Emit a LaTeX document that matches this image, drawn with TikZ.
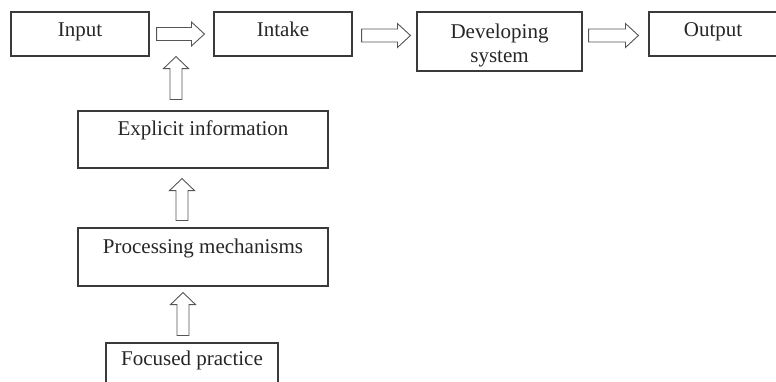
\documentclass[tikz,border=0pt]{standalone}
\usepackage{fontspec}
\setmainfont{Liberation Serif}
\usetikzlibrary{calc}
\definecolor{boxline}{HTML}{3A3A3A}
\definecolor{arrline}{HTML}{555555}
\newcommand\blkarrowH[2]{%
  \draw[barrow] ($(#1)+(0,6.5pt)$) -- ($(#2)+(-13pt,6.5pt)$) -- ($(#2)+(-13pt,12pt)$) -- (#2)
    -- ($(#2)+(-13pt,-12pt)$) -- ($(#2)+(-13pt,-6.5pt)$) -- ($(#1)+(0,-6.5pt)$) -- cycle;}
\newcommand\blkarrowV[2]{%
  \draw[barrow] ($(#1)+(-6pt,0)$) -- ($(#2)+(-6pt,-12pt)$) -- ($(#2)+(-12.5pt,-12pt)$) -- (#2)
    -- ($(#2)+(12.5pt,-12pt)$) -- ($(#2)+(6pt,-12pt)$) -- ($(#1)+(6pt,0)$) -- cycle;}
\begin{document}
\begin{tikzpicture}[x=1pt,y=-1pt,
  box/.style={draw=boxline, line width=1.1pt, inner sep=0pt, fill=white,
    font=\fontsize{21}{24}\selectfont, text=black!85, text height=14pt},
  barrow/.style={draw=arrline, line width=0.9pt, fill=white, line join=miter}]
\useasboundingbox (0,0) rectangle (776,381);
% boxes
\node[box, minimum width=138pt, minimum height=44pt, text depth=10pt] (input) at (80,34) {Input};
\node[box, minimum width=138pt, minimum height=44pt, text depth=10pt] (intake) at (283,34) {Intake};
\node[box, minimum width=165pt, minimum height=59pt, text depth=20.5pt] (develop) at (499.5,41.5)
  {\begin{tabular}[t]{@{}c@{}}Developing\\system\end{tabular}};
\node[box, minimum width=128pt, minimum height=44pt, text depth=10pt] (output) at (713,34) {Output};
\node[box, minimum width=250pt, minimum height=57pt, text depth=23pt] (explicit) at (203,139.5) {Explicit information};
\node[box, minimum width=250pt, minimum height=58pt, text depth=22pt] (process) at (203,257) {Processing mechanisms};
\node[box, minimum width=172pt, minimum height=45pt, text depth=15pt] (focused) at (192,365.5) {Focused practice};
% horizontal arrows
\coordinate (a1s) at ($(input.east)+(7pt,0)$);
\coordinate (a1e) at ($(a1s -| intake.west)+(-9pt,0)$);
\coordinate (a2s) at ($(intake.east)+(9pt,-1.5pt)$);
\coordinate (a2e) at ($(a2s -| develop.west)+(-6pt,0)$);
\coordinate (a3s) at ($(develop.east)+(6pt,0)$);
\coordinate (a3s) at (a3s |- a2s);
\coordinate (a3e) at ($(a3s -| output.west)+(-10pt,0)$);
\blkarrowH{a1s}{a1e}
\blkarrowH{a2s}{a2e}
\blkarrowH{a3s}{a3e}
% vertical arrows
\coordinate (vas) at ($(explicit.north)+(-27pt,11pt)$);
\coordinate (vae) at (vas |- input.south);
\coordinate (vbs) at ($(process.north)+(-21pt,7pt)$);
\coordinate (vbe) at ($(vbs |- explicit.south)+(0,-10pt)$);
\coordinate (vcs) at ($(focused.north)+(-9pt,7pt)$);
\coordinate (vce) at ($(vcs |- process.south)+(0,-6pt)$);
\blkarrowV{vas}{vae}
\blkarrowV{vbs}{vbe}
\blkarrowV{vcs}{vce}
\end{tikzpicture}
\end{document}
